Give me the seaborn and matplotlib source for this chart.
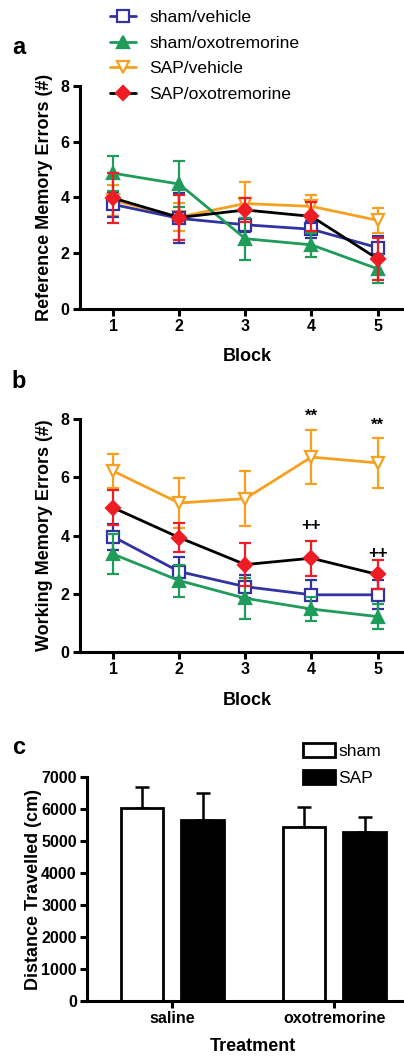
import numpy as np
import pandas as pd
import seaborn as sns
import matplotlib.pyplot as plt
from matplotlib.patches import Patch
from matplotlib.lines import Line2D

blocks = [1, 2, 3, 4, 5]
groups = ["sham/vehicle", "sham/oxotremorine", "SAP/vehicle", "SAP/oxotremorine"]

# panel a: reference memory errors (mean, sem)
ref_sham_veh = [3.75, 3.25, 3.02, 2.86, 2.2]
ref_sham_veh_err = [0.45, 0.9, 0.25, 0.3, 0.4]
ref_sham_oxo = [4.87, 4.48, 2.52, 2.3, 1.44]
ref_sham_oxo_err = [0.63, 0.82, 0.75, 0.44, 0.5]
ref_sap_veh = [3.9, 3.3, 3.78, 3.68, 3.18]
ref_sap_veh_err = [0.55, 0.5, 0.76, 0.42, 0.44]
ref_sap_oxo = [3.98, 3.28, 3.55, 3.32, 1.8]
ref_sap_oxo_err = [0.9, 0.8, 0.42, 0.52, 0.75]

# panel b: working memory errors (mean, sem)
wm_sham_veh = [3.96, 2.76, 2.24, 1.96, 1.96]
wm_sham_veh_err = [0.45, 0.5, 0.4, 0.5, 0.5]
wm_sham_oxo = [3.36, 2.45, 1.84, 1.47, 1.21]
wm_sham_oxo_err = [0.7, 0.55, 0.7, 0.4, 0.43]
wm_sap_veh = [6.22, 5.12, 5.27, 6.7, 6.5]
wm_sap_veh_err = [0.6, 0.87, 0.95, 0.93, 0.87]
wm_sap_oxo = [4.96, 3.93, 3.0, 3.22, 2.66]
wm_sap_oxo_err = [0.6, 0.5, 0.75, 0.6, 0.5]

star_blocks = [4, 5]
star_y = [8.1, 7.78]
plus_blocks = [4, 5]
plus_y = [4.34, 3.39]

# panel c: distance travelled
treatments = ["saline", "oxotremorine"]
lesions = ["sham", "SAP"]
dist_sham = [6030, 5435]
dist_sham_err = [680, 625]
dist_sap = [5665, 5290]
dist_sap_err = [835, 460]

blue = "#3134a0"
green = "#1f9b5a"
orange = "#f6a020"
red = "#ee1c25"

styles = {
    "sham/vehicle": dict(color=blue, marker="s", mfc="white", mec=blue, ec=blue, z=3),
    "sham/oxotremorine": dict(color=green, marker="^", mfc=green, mec=green, ec=green, z=4),
    "SAP/vehicle": dict(color=orange, marker="v", mfc="white", mec=orange, ec=orange, z=2),
    "SAP/oxotremorine": dict(color="black", marker="D", mfc=red, mec=red, ec=red, z=5),
}

sns.set_style("ticks")
plt.rcParams["font.family"] = ["Liberation Sans", "DejaVu Sans"]
plt.rcParams.update({"text.color": "black", "axes.labelcolor": "black",
                     "xtick.color": "black", "ytick.color": "black",
                     "axes.edgecolor": "black"})

fig = plt.figure(figsize=(4.04, 10.57), dpi=100)
ax_a = fig.add_axes([0.198, 0.7077, 0.802, 0.2110])
ax_b = fig.add_axes([0.198, 0.3834, 0.802, 0.2199])
ax_c = fig.add_axes([0.216, 0.0530, 0.784, 0.2116])


def style_axis(ax, size=11.5):
    sns.despine(ax=ax)
    for s in ["left", "bottom"]:
        ax.spines[s].set_linewidth(2.2)
    ax.tick_params(width=2.2, length=5, labelsize=size, pad=2.5)
    for lab in ax.get_xticklabels() + ax.get_yticklabels():
        lab.set_fontweight("bold")


def line_panel(ax, means, errs, ylabel):
    for g in groups:
        st = styles[g]
        df = pd.DataFrame({"Block": blocks, "val": means[g]})
        ax.errorbar(blocks, means[g], yerr=errs[g], fmt="none", ecolor=st["ec"],
                    elinewidth=1.6, capsize=4.5, capthick=1.6, zorder=st["z"])
        sns.lineplot(data=df, x="Block", y="val", ax=ax, color=st["color"], lw=2.0,
                     marker=st["marker"], markersize=8 if st["marker"] != "D" else 7,
                     markerfacecolor=st["mfc"], markeredgecolor=st["mec"],
                     markeredgewidth=1.6, zorder=st["z"] + 0.5)
    ax.set_xlim(0.5, 5.4)
    ax.set_ylim(0, 8)
    ax.set_xticks(blocks)
    ax.set_yticks([0, 2, 4, 6, 8])
    ax.set_xlabel("Block", fontsize=13, fontweight="bold")
    ax.set_ylabel(ylabel, fontsize=13, fontweight="bold")
    ax.yaxis.set_label_coords(-0.083, 0.5)
    ax.xaxis.set_label_coords(0.515, -0.175)
    style_axis(ax)


ref_means = dict(zip(groups, [ref_sham_veh, ref_sham_oxo, ref_sap_veh, ref_sap_oxo]))
ref_errs = dict(zip(groups, [ref_sham_veh_err, ref_sham_oxo_err, ref_sap_veh_err, ref_sap_oxo_err]))
wm_means = dict(zip(groups, [wm_sham_veh, wm_sham_oxo, wm_sap_veh, wm_sap_oxo]))
wm_errs = dict(zip(groups, [wm_sham_veh_err, wm_sham_oxo_err, wm_sap_veh_err, wm_sap_oxo_err]))

line_panel(ax_a, ref_means, ref_errs, "Reference Memory Errors (#)")
line_panel(ax_b, wm_means, wm_errs, "Working Memory Errors (#)")

for xb, yb in zip(star_blocks, star_y):
    ax_b.text(xb, yb, "**", ha="center", va="center", fontsize=12, fontweight="bold")
for xb, yb in zip(plus_blocks, plus_y):
    ax_b.text(xb, yb, "++", ha="center", va="center", fontsize=12, fontweight="bold")

handles = []
for g in groups:
    st = styles[g]
    handles.append(Line2D([], [], color=st["color"], lw=2.0, marker=st["marker"],
                          markersize=8 if st["marker"] != "D" else 7,
                          markerfacecolor=st["mfc"], markeredgecolor=st["mec"],
                          markeredgewidth=1.6))
fig.legend(handles, groups, loc="upper left", bbox_to_anchor=(0.255, 0.9975),
           frameon=False, fontsize=12.6, handlelength=1.5, handletextpad=0.75,
           labelspacing=0.6, borderaxespad=0)

# panel c bars
df_c = pd.DataFrame({
    "Treatment": treatments * 2,
    "Lesion": ["sham"] * 2 + ["SAP"] * 2,
    "Distance": dist_sham + dist_sap,
})
sns.barplot(data=df_c, x="Treatment", y="Distance", hue="Lesion", order=treatments,
            hue_order=lesions, palette=["white", "black"], width=0.75, gap=0.3,
            edgecolor="black", linewidth=2.0, errorbar=None, ax=ax_c, legend=False)
errs_c = dist_sham_err + dist_sap_err
for bar, err in zip(ax_c.patches, errs_c):
    xc = bar.get_x() + bar.get_width() / 2
    top = bar.get_height()
    ax_c.errorbar([xc], [top], yerr=[[0], [err]], fmt="none", ecolor="black",
                  elinewidth=1.8, capsize=5, capthick=1.8, zorder=0)
ax_c.set_xlim(-0.525, 1.43)
ax_c.set_ylim(0, 7000)
ax_c.set_yticks(range(0, 7001, 1000))
ax_c.set_xlabel("Treatment", fontsize=13, fontweight="bold")
ax_c.set_ylabel("Distance Travelled (cm)", fontsize=13, fontweight="bold")
ax_c.yaxis.set_label_coords(-0.144, 0.5)
ax_c.xaxis.set_label_coords(0.523, -0.165)
style_axis(ax_c, size=11.5)

leg_c = [Patch(facecolor="white", edgecolor="black", linewidth=2.0),
         Patch(facecolor="black", edgecolor="black", linewidth=2.0)]
fig.legend(leg_c, lesions, loc="upper left", bbox_to_anchor=(0.732, 0.3035),
           frameon=False, fontsize=12.5, handlelength=1.85, handleheight=0.85,
           handletextpad=0.2, labelspacing=0.65, borderaxespad=0)

for letter, ypix in zip(["a", "b", "c"], [47, 382, 747]):
    fig.text(19 / 404, 1 - ypix / 1057, letter, ha="center", va="center",
             fontsize=17, fontweight="bold")

fig.savefig("out.png", dpi=100)
